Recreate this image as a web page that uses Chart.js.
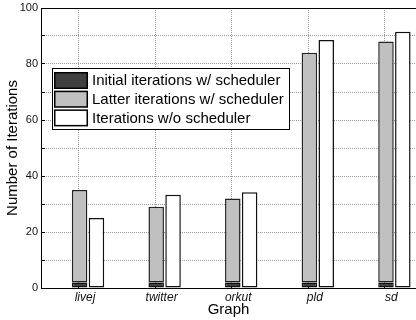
<!DOCTYPE html>
<html>
<head>
<meta charset="utf-8">
<script src="https://cdn.jsdelivr.net/npm/chart.js@4/dist/chart.umd.min.js"></script>
<style>
  html, body { margin: 0; padding: 0; background: #fff; }
  #c { display: block; }
</style>
</head>
<body>
<canvas id="c" width="416" height="320"></canvas>
<script>
// ---- data ----
const categories = ['livej', 'twitter', 'orkut', 'pld', 'sd'];
const initialIters = [2, 2, 2, 2, 2];
const latterIters = [33, 27, 30, 82, 86];
const noSchedIters = [25, 33.3, 34.2, 88.6, 91.5];
const yTickLabels = [0, 20, 40, 60, 80, 100];
const seriesNames = ['Initial iterations w/ scheduler', 'Latter iterations w/ scheduler', 'Iterations w/o scheduler'];

const FONT = "'Liberation Sans', Arial, Helvetica, sans-serif";

const toPts = arr => arr.map((v, i) => ({ x: i, y: v }));

const frameAndLegend = {
  id: 'frameAndLegend',
  afterDraw(chart) {
    const ctx = chart.ctx;
    const a = chart.chartArea;
    ctx.save();
    // top border line
    ctx.strokeStyle = '#000';
    ctx.lineWidth = 1;
    ctx.beginPath();
    ctx.moveTo(a.left, a.top + 0.5);
    ctx.lineTo(a.right, a.top + 0.5);
    ctx.stroke();

    // legend box
    const bx = a.left + 11, by = a.top + 60, bw = 237, bh = 61;
    ctx.fillStyle = '#fff';
    ctx.fillRect(bx, by, bw, bh);
    ctx.strokeRect(bx + 0.5, by + 0.5, bw, bh);
    ctx.font = '15px ' + FONT;
    ctx.textBaseline = 'middle';
    chart.data.datasets.forEach((ds, i) => {
      const sy = by + 4 + i * 18.7;
      ctx.fillStyle = ds.backgroundColor;
      ctx.fillRect(bx + 2, sy, 34, 17);
      ctx.strokeStyle = '#000';
      ctx.lineWidth = 1.5;
      ctx.strokeRect(bx + 2.75, sy + 0.75, 32.5, 15.5);
      ctx.fillStyle = '#000';
      ctx.fillText(ds.label, bx + 40, sy + 9);
    });
    ctx.restore();
  }
};

new Chart(document.getElementById('c'), {
  type: 'bar',
  data: {
    datasets: [
      { label: seriesNames[0], data: toPts(initialIters), stack: 'with', backgroundColor: '#404040', borderColor: '#111', borderWidth: 1.5, borderSkipped: false },
      { label: seriesNames[1], data: toPts(latterIters), stack: 'with', backgroundColor: '#c0c0c0', borderColor: '#222', borderWidth: 1.5, borderSkipped: false },
      { label: seriesNames[2], data: toPts(noSchedIters), stack: 'without', backgroundColor: '#ffffff', borderColor: '#111', borderWidth: 1.5, borderSkipped: false }
    ]
  },
  options: {
    responsive: false,
    devicePixelRatio: 1,
    animation: false,
    layout: { padding: { top: 8, right: 0, left: 0, bottom: 0 } },
    categoryPercentage: 0.44,
    barPercentage: 0.92,
    plugins: {
      legend: { display: false },
      tooltip: { enabled: false }
    },
    scales: {
      x: {
        type: 'linear',
        position: 'bottom',
        weight: 1,
        min: -0.614,
        max: 4.282,
        offset: false,
        afterBuildTicks: s => { s.ticks = categories.map((c, i) => ({ value: i })); },
        afterFit: s => { s.height = 32; s.paddingLeft = 0; s.paddingRight = 0; },
        grid: { display: false, drawTicks: false },
        border: { display: true, color: '#000', width: 1 },
        ticks: {
          autoSkip: false, maxRotation: 0, padding: 2, labelOffset: -3,
          color: '#111',
          font: { family: FONT, size: 12, style: 'italic' },
          callback: v => categories[v] !== undefined ? categories[v] : ''
        },
        title: {
          display: true, text: 'Graph', color: '#000',
          font: { family: FONT, size: 15 },
          padding: { top: 0, bottom: 1 }
        }
      },
      xg: {
        type: 'linear',
        position: 'bottom',
        weight: 0,
        min: -0.614,
        max: 4.282,
        offset: false,
        afterBuildTicks: s => { s.ticks = categories.slice(0, 4).map((c, i) => ({ value: i + 0.375 })); },
        afterFit: s => { s.height = 0; s.paddingLeft = 0; s.paddingRight = 0; },
        grid: { display: true, drawOnChartArea: true, drawTicks: true, tickLength: -4, tickColor: '#000', tickWidth: 1, color: '#999999', lineWidth: 1 },
        border: { display: false, dash: [1, 1] },
        ticks: { display: false }
      },
      y: {
        stacked: true,
        min: 0,
        max: 100,
        afterFit: s => { s.width = 41; s.paddingTop = 0; s.paddingBottom = 0; },
        afterBuildTicks: s => {
          const t = [];
          for (let v = 0; v <= 100; v += 10) t.push({ value: v });
          s.ticks = t;
        },
        grid: { display: true, drawTicks: true, tickLength: -4, tickColor: '#000', tickWidth: 1, color: '#999999', lineWidth: 1 },
        border: { display: true, color: '#000', width: 1, dash: [1, 1] },
        ticks: {
          padding: 7, color: '#111',
          font: { family: FONT, size: 11 },
          callback: v => yTickLabels.includes(v) ? String(v) : ''
        },
        title: {
          display: true, text: 'Number of Iterations', color: '#000',
          font: { family: FONT, size: 15 },
          padding: { top: 4, bottom: 0 }
        }
      }
    }
  },
  plugins: [frameAndLegend]
});
</script>
</body>
</html>
